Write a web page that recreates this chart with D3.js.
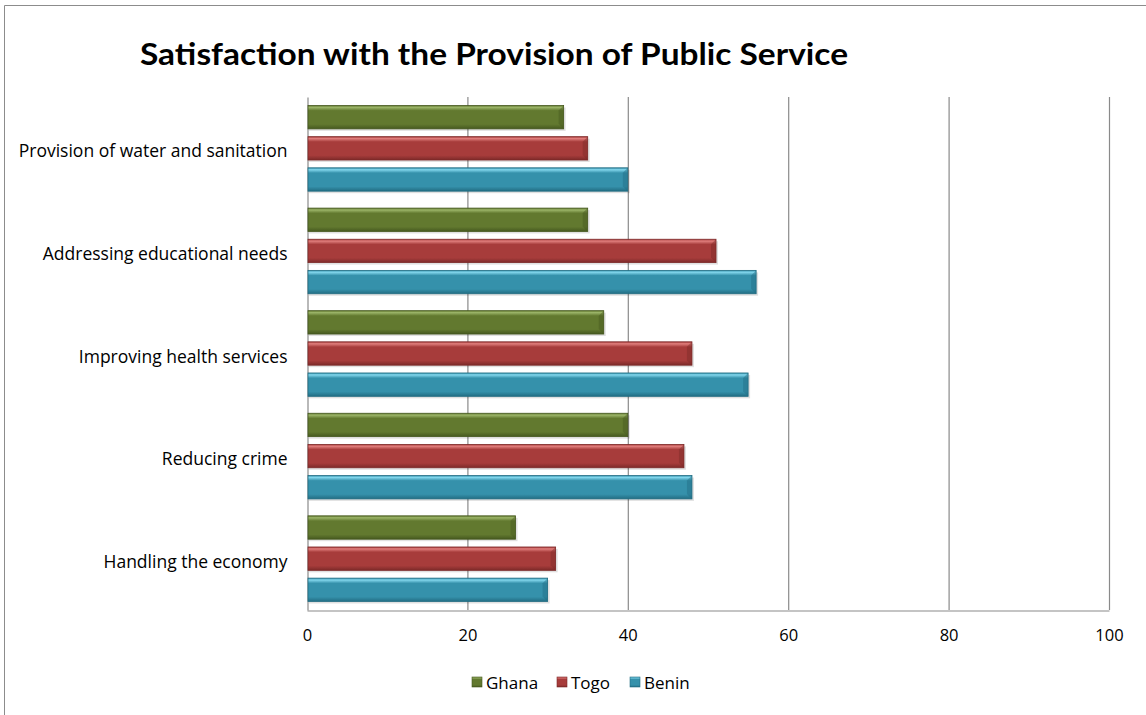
<!DOCTYPE html>
<html>
<head>
<meta charset="utf-8">
<script src="https://cdn.jsdelivr.net/npm/d3@7"></script>
<style>
  body { margin: 0; background: #fff; }
  svg { font-family: "Open Sans", sans-serif; }
</style>
</head>
<body>
<div id="chart"></div>
<script>
// data
const categories = [
  'Provision of water and sanitation',
  'Addressing educational needs',
  'Improving health services',
  'Reducing crime',
  'Handling the economy'
];
const seriesNames = ['Ghana', 'Togo', 'Benin'];
const ghana = [32, 35, 37, 40, 26];
const togo = [35, 51, 48, 47, 31];
const benin = [40, 56, 55, 48, 30];
const xTicks = [0, 20, 40, 60, 80, 100];

const colors = {
  Ghana: { light: '#9bb468', mid: '#62792f', dark: '#46591f' },
  Togo: { light: '#e07e7c', mid: '#a73c3b', dark: '#7d2a29' },
  Benin: { light: '#82d6ec', mid: '#3591ab', dark: '#226d83' }
};

const W = 1146, H = 715;
const margin = { top: 97, right: 37, bottom: 105, left: 307 };
const width = W - margin.left - margin.right;
const height = H - margin.top - margin.bottom;

const svg = d3.select('#chart').append('svg')
  .attr('width', W)
  .attr('height', H);

const defs = svg.append('defs');
seriesNames.forEach(s => {
  const g = defs.append('linearGradient')
    .attr('id', `grad-${s}`)
    .attr('x1', 0).attr('y1', 0).attr('x2', 0).attr('y2', 1);
  g.append('stop').attr('offset', '0%').attr('stop-color', colors[s].mid);
  g.append('stop').attr('offset', '8%').attr('stop-color', colors[s].light);
  g.append('stop').attr('offset', '22%').attr('stop-color', colors[s].mid);
  g.append('stop').attr('offset', '80%').attr('stop-color', colors[s].mid);
  g.append('stop').attr('offset', '100%').attr('stop-color', colors[s].dark);
});

// outer frame (only left and top edges visible)
svg.append('path')
  .attr('d', `M4.5,${H} V5.5 H${W}`)
  .attr('fill', 'none')
  .attr('stroke', '#8c8c8c')
  .attr('stroke-width', 1);

svg.append('text')
  .attr('x', 140)
  .attr('y', 65)
  .attr('font-size', 30)
  .attr('font-weight', 'bold')
  .attr('font-family', 'Lato, sans-serif')
  .attr('fill', '#000')
  .attr('textLength', 708)
  .attr('lengthAdjust', 'spacingAndGlyphs')
  .text('Satisfaction with the Provision of Public Service');

const g = svg.append('g')
  .attr('transform', `translate(${margin.left},${margin.top})`);

const x = d3.scaleLinear().domain([0, 100]).range([0, width]);
const y0 = d3.scaleBand().domain(categories).range([0, height]).paddingInner(0.165).paddingOuter(0.083);
const y1 = d3.scaleBand().domain(seriesNames).range([0, y0.bandwidth()]).paddingInner(0.25);

// gridlines
g.append('g')
  .selectAll('line')
  .data(xTicks.slice(1))
  .join('line')
  .attr('x1', d => x(d) + 0.5).attr('x2', d => x(d) + 0.5)
  .attr('y1', 0).attr('y2', height)
  .attr('stroke', '#8a8a8a')
  .attr('stroke-width', 1.2);

const xAxis = g.append('g')
  .attr('transform', `translate(0,${height + 0.5})`)
  .call(d3.axisBottom(x).tickValues(xTicks).tickSize(0).tickPadding(19));
xAxis.select('.domain').attr('stroke', '#8a8a8a').attr('stroke-width', 1.2);
xAxis.selectAll('text').attr('font-size', 16.5).attr('fill', '#000').attr('font-family', '"Open Sans", sans-serif');

const yAxis = g.append('g')
  .attr('transform', 'translate(0.5,0)')
  .call(d3.axisLeft(y0).tickSize(0).tickPadding(20));
yAxis.select('.domain').attr('stroke', '#8a8a8a').attr('stroke-width', 1.2);
yAxis.selectAll('text')
  .attr('font-size', 17.5)
  .attr('fill', '#000')
  .attr('font-family', '"Open Sans", sans-serif')
  .attr('dy', '0.52em');

const rows = categories.map((c, i) => ({
  cat: c,
  vals: [
    { s: 'Ghana', v: ghana[i] },
    { s: 'Togo', v: togo[i] },
    { s: 'Benin', v: benin[i] }
  ]
}));

const groups = g.append('g').selectAll('g')
  .data(rows)
  .join('g')
  .attr('transform', d => `translate(1,${y0(d.cat)})`);

const bars = groups.selectAll('g')
  .data(d => d.vals)
  .join('g');

// soft shadow
bars.append('rect')
  .attr('x', 1)
  .attr('y', d => y1(d.s) + 2)
  .attr('width', d => x(d.v))
  .attr('height', y1.bandwidth())
  .attr('fill', '#000')
  .attr('opacity', 0.12);

bars.append('rect')
  .attr('x', 0)
  .attr('y', d => y1(d.s))
  .attr('width', d => x(d.v) - 1)
  .attr('height', y1.bandwidth())
  .attr('fill', d => `url(#grad-${d.s})`)
  .attr('stroke', d => colors[d.s].dark)
  .attr('stroke-width', 0.8);

// bevelled right end
bars.append('path')
  .attr('d', d => {
    const xe = x(d.v) - 1, yt = y1(d.s), h = y1.bandwidth();
    return `M${xe},${yt} L${xe - 5},${yt + 5} L${xe - 5},${yt + h - 5} L${xe},${yt + h} Z`;
  })
  .attr('fill', d => colors[d.s].dark)
  .attr('opacity', 0.45);

// legend
const legendItems = [
  { s: 'Ghana', x: 472 },
  { s: 'Togo', x: 557 },
  { s: 'Benin', x: 630 }
];
const legend = svg.append('g');
legendItems.forEach(item => {
  legend.append('rect')
    .attr('x', item.x)
    .attr('y', 677)
    .attr('width', 10)
    .attr('height', 10)
    .attr('fill', `url(#grad-${item.s})`)
    .attr('stroke', colors[item.s].dark)
    .attr('stroke-width', 0.6);
  legend.append('text')
    .attr('x', item.x + 14)
    .attr('y', 689)
    .attr('font-size', 17)
    .attr('fill', '#000')
    .text(item.s);
});
</script>
</body>
</html>
